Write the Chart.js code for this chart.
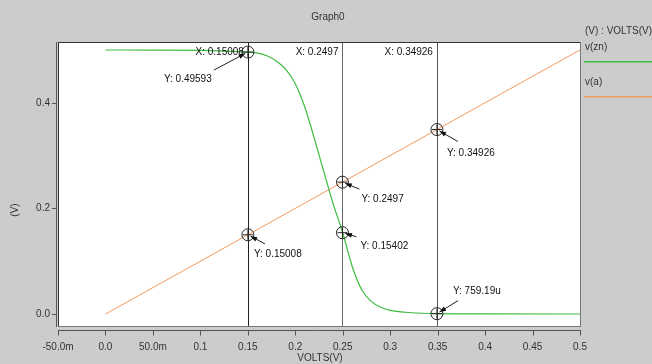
<!DOCTYPE html>
<html>
<head>
<meta charset="utf-8">
<script src="https://cdn.jsdelivr.net/npm/chart.js@4/dist/chart.umd.min.js"></script>
<style>
  html, body { margin: 0; padding: 0; background: #cccccc; }
  #wrap { width: 652px; height: 364px; }
</style>
</head>
<body>
<div id="wrap"><canvas id="myChart" width="652" height="364"></canvas></div>
<script>
// v(zn)
var xZn = [0, 0.05, 0.1, 0.12, 0.14, 0.15, 0.16, 0.17, 0.18, 0.19, 0.2, 0.21, 0.22, 0.23, 0.24, 0.25, 0.26, 0.27, 0.28, 0.29, 0.3, 0.32, 0.35, 0.4, 0.5];
var vZn = [0.4999, 0.4998, 0.499, 0.4983, 0.497, 0.4959, 0.4938, 0.489, 0.479, 0.463, 0.436, 0.392, 0.333, 0.270, 0.208, 0.154, 0.090, 0.046, 0.024, 0.013, 0.007, 0.003, 0.00076, 0.0002, 0.0001];
// v(a) is the sweep itself
var xA = [0, 0.5];
var vA = [0, 0.5];

var xTickValues = [-0.05, 0, 0.05, 0.1, 0.15, 0.2, 0.25, 0.3, 0.35, 0.4, 0.45, 0.5];
var xTickLabels = ['-50.0m', '0.0', '50.0m', '0.1', '0.15', '0.2', '0.25', '0.3', '0.35', '0.4', '0.45', '0.5'];
var yTickValues = [0, 0.2, 0.4];
var yTickLabels = ['0.0', '0.2', '0.4'];

// cursors and their markers
var cursorX = [0.15008, 0.2497, 0.34926];
var cursorText = ['X: 0.15008', 'X: 0.2497', 'X: 0.34926'];
var markerX = [0.15008, 0.15008, 0.2497, 0.2497, 0.34926, 0.34926];
var markerY = [0.49593, 0.15008, 0.2497, 0.15402, 0.34926, 0.00075919];
var markerText = ['Y: 0.49593', 'Y: 0.15008', 'Y: 0.2497', 'Y: 0.15402', 'Y: 0.34926', 'Y: 759.19u'];

// label placement relative to the marker (text left, text middle, arrow tail)
var labelOffsets = [
  { tx: -84, ty: 27, ax: -34, ay: 18 },
  { tx: 6, ty: 19, ax: 17, ay: 9 },
  { tx: 19, ty: 17, ax: 17, ay: 7 },
  { tx: 18, ty: 14, ax: 14, ay: 4 },
  { tx: 10, ty: 24, ax: 21, ay: 12 },
  { tx: 16, ty: -22, ax: 21, ay: -13 }
];
var cursorColors = ['#222', '#666', '#555'];
var lineColors = ['#3fbb3f', '#f49a5c'];

var FONT = '10px "Liberation Sans", Arial, sans-serif';

function arrow(ctx, x1, y1, x2, y2) {
  var a = Math.atan2(y2 - y1, x2 - x1);
  ctx.beginPath();
  ctx.moveTo(x1, y1);
  ctx.lineTo(x2, y2);
  ctx.stroke();
  ctx.beginPath();
  ctx.moveTo(x2, y2);
  ctx.lineTo(x2 - 7 * Math.cos(a - 0.35), y2 - 7 * Math.sin(a - 0.35));
  ctx.lineTo(x2 - 7 * Math.cos(a + 0.35), y2 - 7 * Math.sin(a + 0.35));
  ctx.closePath();
  ctx.fill();
}

var backdrop = {
  id: 'backdrop',
  beforeDraw: function(chart) {
    var ctx = chart.ctx, a = chart.chartArea;
    ctx.save();
    ctx.fillStyle = '#cccccc';
    ctx.fillRect(0, 0, chart.width, chart.height);
    ctx.fillStyle = '#ffffff';
    ctx.fillRect(a.left, a.top, a.right - a.left, a.bottom - a.top);
    ctx.restore();
  },
  beforeDatasetsDraw: function(chart) {
    var ctx = chart.ctx, a = chart.chartArea, xs = chart.scales.x;
    ctx.save();
    ctx.lineWidth = 1;
    for (var i = 0; i < cursorX.length; i++) {
      var px = Math.round(xs.getPixelForValue(cursorX[i])) + 0.5;
      ctx.strokeStyle = cursorColors[i];
      ctx.beginPath();
      ctx.moveTo(px, a.top);
      ctx.lineTo(px, a.bottom);
      ctx.stroke();
    }
    ctx.restore();
  },
  afterDraw: function(chart) {
    var ctx = chart.ctx, a = chart.chartArea;
    var xs = chart.scales.x, ys = chart.scales.y;
    ctx.save();
    ctx.lineWidth = 1;

    // plot frame
    ctx.strokeStyle = '#777';
    ctx.strokeRect(a.left + 0.5, a.top + 0.5, a.right - a.left, a.bottom - a.top);
    ctx.strokeStyle = '#333';
    ctx.beginPath();
    ctx.moveTo(a.left + 0.5, a.bottom);
    ctx.lineTo(a.left + 0.5, a.top + 0.5);
    ctx.lineTo(a.right, a.top + 0.5);
    ctx.stroke();

    // axis lines with ticks
    ctx.strokeStyle = '#555';
    ctx.beginPath();
    ctx.moveTo(a.left - 1.5, a.top);
    ctx.lineTo(a.left - 1.5, a.bottom + 1);
    var yy = a.bottom + 4.5;
    ctx.moveTo(xs.getPixelForValue(xTickValues[0]), yy);
    ctx.lineTo(a.right + 1, yy);
    for (var i = 0; i < xTickValues.length; i++) {
      var tx = Math.round(xs.getPixelForValue(xTickValues[i])) + 0.5;
      ctx.moveTo(tx, yy);
      ctx.lineTo(tx, yy + 5);
    }
    for (var j = 0; j < yTickValues.length; j++) {
      var ty = Math.round(ys.getPixelForValue(yTickValues[j])) + 0.5;
      ctx.moveTo(a.left - 6, ty);
      ctx.lineTo(a.left - 1.5, ty);
    }
    ctx.stroke();

    // titles
    ctx.font = FONT;
    ctx.fillStyle = '#333';
    ctx.textAlign = 'center';
    ctx.textBaseline = 'middle';
    ctx.fillText('Graph0', 328, 17);
    ctx.fillText('VOLTS(V)', 320, 358);
    ctx.save();
    ctx.translate(15, 210);
    ctx.rotate(-Math.PI / 2);
    ctx.fillText('(V)', 0, 0);
    ctx.restore();

    // legend
    ctx.textAlign = 'left';
    ctx.fillText('(V) : VOLTS(V)', 585, 31);
    var ds = chart.data.datasets;
    for (var k = 0; k < ds.length; k++) {
      var base = 47 + k * 35;
      ctx.fillStyle = '#333';
      ctx.fillText(ds[k].label, 585, base);
      ctx.fillStyle = lineColors[k];
      ctx.fillRect(584, base + 14, 68, 1.5);
    }

    // cursor readouts
    ctx.fillStyle = '#111';
    ctx.textAlign = 'right';
    for (var c = 0; c < cursorX.length; c++) {
      ctx.fillText(cursorText[c], xs.getPixelForValue(cursorX[c]) - 4, 52);
    }

    // markers with arrows and values
    ctx.strokeStyle = '#222';
    ctx.fillStyle = '#111';
    for (var m = 0; m < markerX.length; m++) {
      var mx = xs.getPixelForValue(markerX[m]);
      var my = ys.getPixelForValue(markerY[m]);
      var o = labelOffsets[m];
      ctx.beginPath();
      ctx.arc(mx, my, 6, 0, Math.PI * 2);
      ctx.moveTo(mx - 5, my);
      ctx.lineTo(mx + 5, my);
      ctx.moveTo(mx, my - 5);
      ctx.lineTo(mx, my + 5);
      ctx.stroke();
      var ang = Math.atan2(o.ay, o.ax);
      arrow(ctx, mx + o.ax, my + o.ay, mx + 3 * Math.cos(ang), my + 3 * Math.sin(ang));
      ctx.textAlign = 'left';
      ctx.fillText(markerText[m], mx + o.tx, my + o.ty);
    }
    ctx.restore();
  }
};

function toPoints(xs, ys) {
  var pts = [];
  for (var i = 0; i < xs.length; i++) pts.push({ x: xs[i], y: ys[i] });
  return pts;
}

var ctx = document.getElementById('myChart').getContext('2d');
var chart = new Chart(ctx, {
  type: 'scatter',
  data: {
    datasets: [{
      label: 'v(zn)',
      data: toPoints(xZn, vZn),
      borderColor: lineColors[0],
      borderWidth: 1.2,
      showLine: true,
      pointRadius: 0,
      cubicInterpolationMode: 'monotone'
    }, {
      label: 'v(a)',
      data: toPoints(xA, vA),
      borderColor: lineColors[1],
      borderWidth: 1,
      showLine: true,
      pointRadius: 0
    }]
  },
  options: {
    responsive: false,
    animation: false,
    events: [],
    layout: { padding: { top: 42, right: 72, left: 0, bottom: 0 } },
    plugins: { legend: { display: false }, title: { display: false }, tooltip: { enabled: false } },
    scales: {
      x: {
        type: 'linear',
        min: -0.05,
        max: 0.5,
        afterFit: function(s) { s.height = 38; },
        afterBuildTicks: function(s) { s.ticks = xTickValues.map(function(v) { return { value: v }; }); },
        grid: { display: false, drawTicks: false },
        border: { display: false },
        ticks: {
          autoSkip: false,
          maxRotation: 0,
          padding: 15,
          color: '#333',
          font: { family: '"Liberation Sans", Arial, sans-serif', size: 10 },
          callback: function(v, i) { return xTickLabels[i]; }
        }
      },
      y: {
        type: 'linear',
        min: -0.0226,
        max: 0.515,
        afterFit: function(s) { s.width = 58; },
        afterBuildTicks: function(s) { s.ticks = yTickValues.map(function(v) { return { value: v }; }); },
        grid: { display: false, drawTicks: false },
        border: { display: false },
        ticks: {
          padding: 8,
          color: '#333',
          font: { family: '"Liberation Sans", Arial, sans-serif', size: 10 },
          callback: function(v, i) { return yTickLabels[i]; }
        }
      }
    }
  },
  plugins: [backdrop]
});
</script>
</body>
</html>
